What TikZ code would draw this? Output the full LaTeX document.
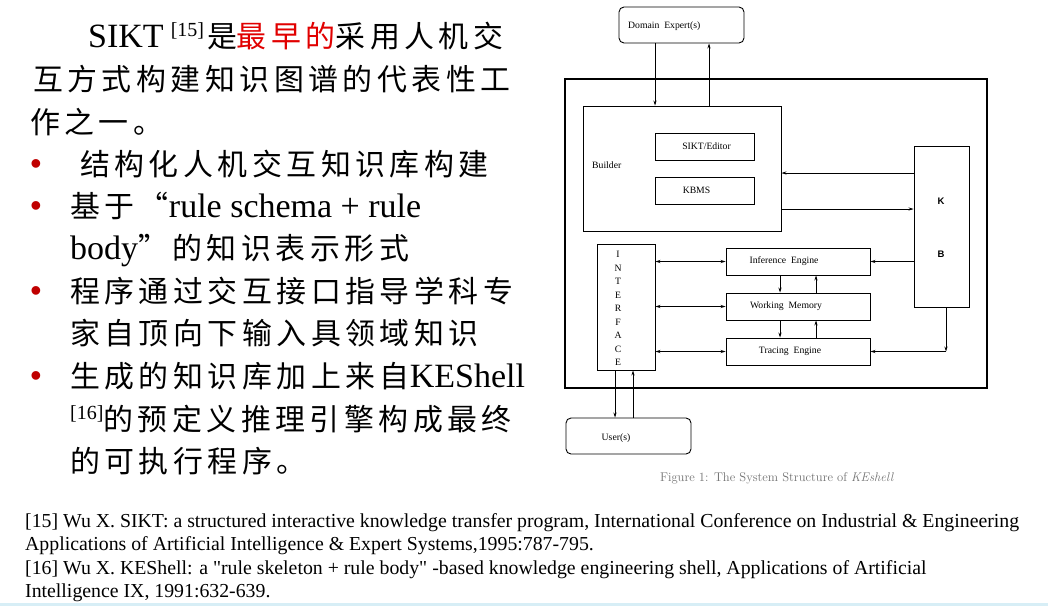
\documentclass[tikz,border=0pt]{standalone}
\usepackage{fontspec}
\usetikzlibrary{arrows.meta,calc}
\newfontfamily\tnr{Liberation Serif}
\newfontfamily\cjk[Scale=0.88,LetterSpace=15]{Noto Sans CJK SC}
\newfontfamily\arialf{Liberation Sans}
\definecolor{bulletred}{RGB}{192,0,0}
\definecolor{hired}{RGB}{225,0,0}
\definecolor{capgray}{RGB}{115,115,115}
\definecolor{edgeblue}{RGB}{215,238,246}
\tikzset{
  box/.style={draw=black, line width=0.9pt, rectangle, inner sep=0pt},
  rbox/.style={box, rounded corners=5pt},
  dlab/.style={font=\tnr\fontsize{9.7}{11}\selectfont, inner sep=0pt},
  arr/.style={draw=black, line width=0.8pt, -{Stealth[length=5pt,width=3.2pt]}},
  darr/.style={draw=black, line width=0.8pt, {Stealth[length=5pt,width=3.2pt]}-{Stealth[length=5pt,width=3.2pt]}},
  txt/.style={anchor=base west, inner sep=0pt, font=\tnr\fontsize{34}{40}\selectfont},
  bul/.style={anchor=base, inner sep=0pt, text=bulletred, font=\arialf\fontsize{32}{32}\selectfont},
  refl/.style={anchor=base west, inner sep=0pt, font=\tnr\fontsize{19.8}{22}\selectfont},
}
\begin{document}
\begin{tikzpicture}[x=1pt,y=-1pt]
\useasboundingbox (0,0) rectangle (1048,606);
\fill[white] (0,0) rectangle (1048,606);
\fill[edgeblue] (0,603) rectangle (1048,606);

% ---------- left text ----------
\node[txt] (l1) at (88,47) {SIKT\hspace{7pt}\raisebox{11pt}{\fontsize{20}{20}\selectfont[15]}\hspace{3pt}{\cjk 是}{\cjk\color{hired}最早的}{\cjk 采用人机交}};
\node[txt] (l2) at (33,90) {\cjk 互方式构建知识图谱的代表性工};
\node[txt] (l3) at (30,133) {\cjk 作之一。};
\node[bul] (b1) at (36,174) {•};
\node[txt] (l4) at (80,175) {\cjk 结构化人机交互知识库构建};
\node[bul] (b2) at (36,216) {•};
\node[txt] (l5) at (70,217) {{\cjk 基于“}rule schema + rule};
\node[txt] (l6) at (70,259) {body{\cjk ”的知识表示形式}};
\node[bul] (b3) at (36,301) {•};
\node[txt] (l7) at (70,302) {\cjk 程序通过交互接口指导学科专};
\node[txt] (l8) at (70,344) {\cjk 家自顶向下输入具领域知识};
\node[bul] (b4) at (36,386) {•};
\node[txt] (l9) at (70,387) {{\cjk 生成的知识库加上来自}KEShell};
\node[txt] (l10) at (70,430) {\raisebox{11pt}{\fontsize{20}{20}\selectfont[16]}{\cjk 的预定义推理引擎构成最终}};
\node[txt] (l11) at (70,472) {\cjk 的可执行程序。};

% ---------- references ----------
\node[refl] (r1) at (25,527) {[15] Wu X. SIKT: a structured interactive knowledge transfer program, International Conference on Industrial \& Engineering};
\node[refl] (r2) at (25,550) {Applications of Artificial Intelligence \& Expert Systems,1995:787-795.};
\node[refl] (r3) at (25,574) {[16] Wu X. KEShell: a "rule skeleton + rule body" -based knowledge engineering shell, Applications of Artificial};
\node[refl] (r4) at (25,597) {Intelligence IX, 1991:632-639.};

% ---------- diagram ----------
\node[rbox, minimum width=125pt, minimum height=36pt] (domain) at (681.5,25) {};
\node[dlab, anchor=west] (domainlab) at (628,26) {Domain\ \ Expert(s)};
\node[box, line width=1.1pt, minimum width=422pt, minimum height=309pt] (outer) at (776,233.5) {};
\node[box, minimum width=198pt, minimum height=125pt] (builder) at (682,168.5) {};
\node[dlab, anchor=west] (builderlab) at (592,165) {Builder};
\node[box, minimum width=99pt, minimum height=27pt, label={[dlab,xshift=2pt]center:SIKT/Editor}] (sikt) at (704.5,146.5) {};
\node[box, minimum width=99pt, minimum height=27pt, label={[dlab,xshift=-8pt]center:KBMS}] (kbms) at (704.5,190.5) {};
\node[box, minimum width=55pt, minimum height=161pt] (kb) at (941.5,226.5) {};
\node[inner sep=0pt, font=\arialf\bfseries\fontsize{9.5}{9.5}\selectfont] (klab) at (941,201) {K};
\node[inner sep=0pt, font=\arialf\bfseries\fontsize{9.5}{9.5}\selectfont] (blab) at (941,254) {B};
\node[box, minimum width=58pt, minimum height=126pt] (iface) at (626,307) {};
\node[dlab, align=center, font=\tnr\fontsize{9.7}{13.5}\selectfont] (ifacelab) at (618,308.5) {I\\N\\T\\E\\R\\F\\A\\C\\E};
\node[box, minimum width=144pt, minimum height=27pt, label={[dlab,xshift=-14pt]center:Inference\ \ Engine}] (inf) at (798,261.5) {};
\node[box, minimum width=144pt, minimum height=27pt, label={[dlab,xshift=-12pt]center:Working\ \ Memory}] (wm) at (798,306.5) {};
\node[box, minimum width=144pt, minimum height=27pt, label={[dlab,xshift=-8pt]center:Tracing\ \ Engine}] (trc) at (798,351.5) {};
\node[rbox, minimum width=125pt, minimum height=36pt] (user) at (628.5,436) {};
\node[dlab] (userlab) at (616,438) {User(s)};
\node[inner sep=0pt, text=capgray, font=\fontsize{12.6}{14}\selectfont] (caption) at (777,478) {Figure 1: The System Structure of \textit{KEshell}};

% x positions of vertical connectors
\coordinate (xa) at (655,0);
\coordinate (xb) at (709,0);
\coordinate (xc) at (615,0);
\coordinate (xd) at (633,0);
\coordinate (xe) at (780,0);
\coordinate (xf) at (816,0);
\coordinate (xk) at (946,0);
\coordinate (ya) at (0,173);
\coordinate (yb) at (0,209);

\draw[arr] (domain.south -| xa) -- (builder.north -| xa);
\draw[arr] (builder.north -| xb) -- (domain.south -| xb);
\draw[arr] (kb.west |- ya) -- (builder.east |- ya);
\draw[arr] (builder.east |- yb) -- (kb.west |- yb);
\draw[darr] (iface.east |- inf.west) -- (inf.west);
\draw[darr] (iface.east |- wm.west) -- (wm.west);
\draw[darr] (iface.east |- trc.west) -- (trc.west);
\draw[arr] (kb.west |- inf.east) -- (inf.east);
\draw[arr] (inf.south -| xe) -- (wm.north -| xe);
\draw[arr] (wm.north -| xf) -- (inf.south -| xf);
\draw[arr] (wm.south -| xe) -- (trc.north -| xe);
\draw[arr] (trc.north -| xf) -- (wm.south -| xf);
\coordinate (kcorner) at (xk |- trc.east);
\draw[arr] (kb.south -| xk) -- (kcorner);
\draw[arr] (kcorner) -- (trc.east);
\draw[arr] (iface.south -| xc) -- (user.north -| xc);
\draw[arr] (user.north -| xd) -- (iface.south -| xd);
\end{tikzpicture}
\end{document}
